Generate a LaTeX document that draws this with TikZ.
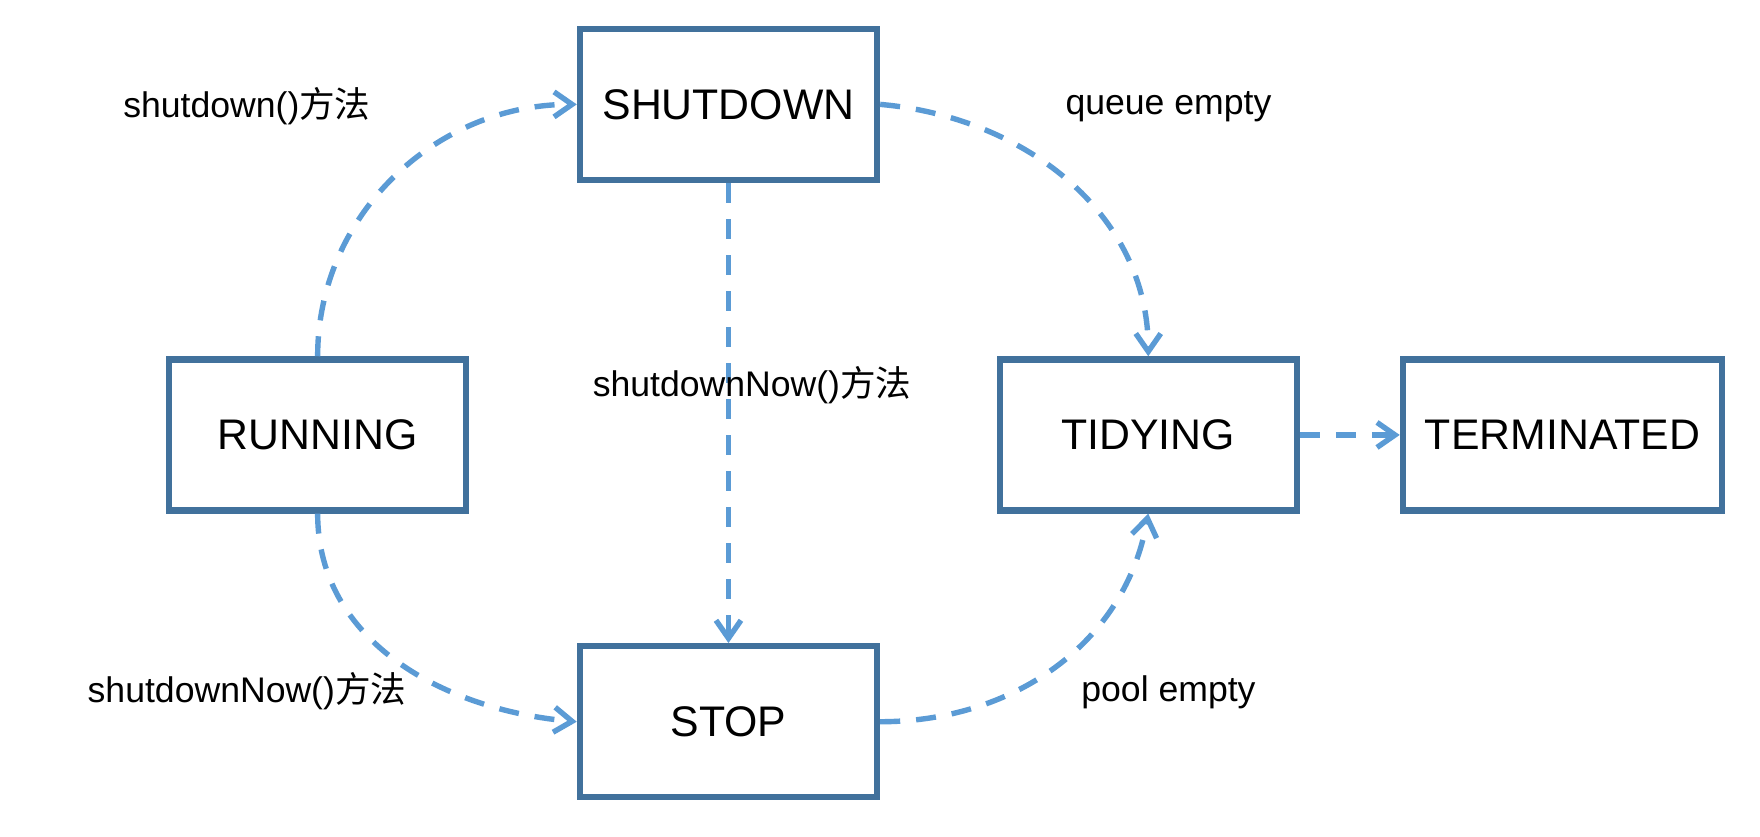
\documentclass[tikz,border=0pt]{standalone}
\usepackage{fontspec}
\setmainfont{Liberation Sans}
\newfontfamily\cjk{Noto Sans CJK SC}
\usetikzlibrary{arrows.meta}
\definecolor{boxblue}{HTML}{41719C}
\definecolor{arrblue}{HTML}{5B9BD5}
\tikzset{
  state/.style={draw=boxblue, line width=3.2pt, minimum width=148.5pt, minimum height=75.5pt, inner sep=0pt, font=\fontsize{21.4}{24}\selectfont},
  conn/.style={draw=arrblue, line width=2.7pt, dash pattern=on 10pt off 8pt, -{Straight Barb[length=9pt,width=12.5pt]}},
  lbl/.style={font=\fontsize{17.8}{20}\selectfont, inner sep=0pt}
}
\begin{document}
\begin{tikzpicture}[x=0.5612pt,y=-0.5612pt]
\useasboundingbox (0,0) rectangle (1568,745);
\node[state] (sd) at (649,93) {SHUTDOWN};
\node[state] (run) at (283,387.5) {RUNNING};
\node[state] (tid) at (1023,387.5) {TIDYING};
\node[state, minimum width=159.5pt] (term) at (1392,387.5) {TERMINATED};
\node[state] (stop) at (649,643) {STOP};

\draw[conn] (run.north) to[out=90,in=180] (sd.west);
\draw[conn] (sd.east) to[out=-5,in=90] (tid.north);
\draw[conn] (run.south) to[out=-90,in=175] (stop.west);
\draw[conn] (stop.east) to[out=0,in=-100] (tid.south);
\draw[conn] (sd.south) -- (stop.north);
\draw[conn] (tid.east) -- (term.west);

\node[lbl] (l1) at (220,95) {shutdown(){\cjk 方法}};
\node[lbl] (l2) at (1041,95) {queue empty};
\node[lbl] (l3) at (670,343) {shutdownNow(){\cjk 方法}};
\node[lbl] (l4) at (220,616) {shutdownNow(){\cjk 方法}};
\node[lbl] (l5) at (1041,617) {pool empty};
\end{tikzpicture}
\end{document}
